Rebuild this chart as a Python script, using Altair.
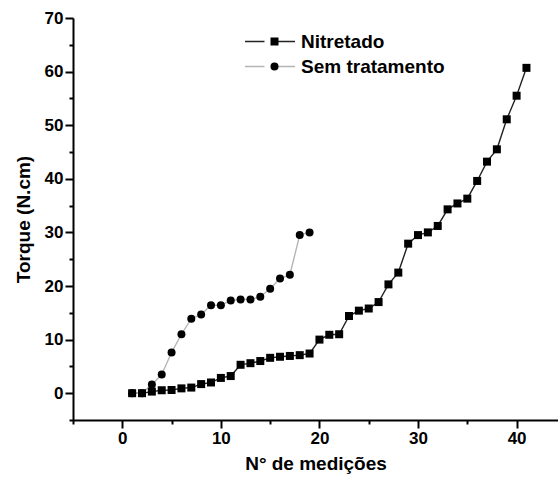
import altair as alt
import pandas as pd

series_names = ["Nitretado", "Sem tratamento"]

nitretado_x = list(range(1, 42))
nitretado_torque = [0.0, 0.0, 0.3, 0.55, 0.6, 0.9, 1.05, 1.7, 2.0, 2.85,
                    3.2, 5.3, 5.6, 6.0, 6.6, 6.8, 6.95, 7.1, 7.4, 10.0,
                    10.9, 11.0, 14.4, 15.4, 15.8, 17.0, 20.3, 22.5, 27.9, 29.5,
                    30.0, 31.2, 34.3, 35.4, 36.3, 39.6, 43.2, 45.5, 51.1, 55.5,
                    60.7]

sem_x = list(range(1, 20))
sem_torque = [0.0, 0.0, 1.6, 3.5, 7.6, 11.0, 13.9, 14.7, 16.4, 16.4,
              17.3, 17.5, 17.5, 18.0, 19.5, 21.4, 22.1, 29.5, 30.0]

x_ticks = list(range(-5, 45, 5))
y_ticks = list(range(-5, 75, 5))

# symbol-legend keys differ from line-legend keys so Vega-Lite keeps two legends
symbol_names = [s + " " for s in series_names]

df = pd.concat([
    pd.DataFrame({"x": nitretado_x, "torque": nitretado_torque, "serie": series_names[0]}),
    pd.DataFrame({"x": sem_x, "torque": sem_torque, "serie": series_names[1]}),
], ignore_index=True)
df["simbolo"] = df["serie"] + " "
df["ordem"] = df["serie"].map({series_names[0]: 0, series_names[1]: 1})

FONT = "Liberation Sans"
cond_tick = {"condition": {"test": "datum.value % 10 === 0", "value": 8}, "value": 4}

x_scale = alt.Scale(domain=[-5, 44.2], nice=False, zero=False)
y_scale = alt.Scale(domain=[-5, 70], nice=False, zero=False)

x_axis = alt.Axis(title="N° de medições", values=x_ticks,
                  labelExpr="datum.value % 10 === 0 ? datum.value : ''",
                  tickSize=cond_tick, grid=False, labelPadding=2, titlePadding=8)
y_axis = alt.Axis(title="Torque (N.cm)", values=y_ticks,
                  labelExpr="datum.value % 10 === 0 ? datum.value : ''",
                  tickSize=cond_tick, grid=False, labelPadding=2, titlePadding=11)

X = alt.X("x:Q", scale=x_scale, axis=x_axis)
Y = alt.Y("torque:Q", scale=y_scale, axis=y_axis)

lines = alt.Chart(df).mark_line(strokeWidth=1.4).encode(
    x=X, y=Y,
    color=alt.Color("serie:N",
                    scale=alt.Scale(domain=series_names, range=["#222222", "#b5b5b5"]),
                    legend=alt.Legend(title=None, orient="none", legendX=171, legendY=11,
                                      symbolType="M-1,0H-0.22M0.22,0H1", symbolSize=2500,
                                      symbolStrokeWidth=1.5, clipHeight=25, rowPadding=0,
                                      padding=0, labelOffset=5, labelFontSize=19,
                                      labelFont=FONT, labelFontWeight="bold",
                                      labelColor="black")),
)

points = alt.Chart(df).mark_point(filled=True, color="black", opacity=1).encode(
    x=X, y=Y,
    shape=alt.Shape("simbolo:N",
                    scale=alt.Scale(domain=symbol_names, range=["square", "circle"]),
                    legend=alt.Legend(title=None, orient="none", legendX=192, legendY=11,
                                      symbolSize=64, symbolFillColor="black",
                                      symbolStrokeWidth=0, symbolOpacity=1,
                                      clipHeight=25, rowPadding=0, padding=0,
                                      labelExpr="''", labelFontSize=19)),
    order=alt.Order("ordem:Q"),
)

chart = alt.layer(lines, points).properties(
    width=485, height=402,
    autosize=alt.AutoSizeParams(type="none"),
    padding={"left": 73, "top": 18, "right": 0, "bottom": 62},
).configure_view(stroke=None).configure_axis(
    domainColor="black", domainWidth=2, tickColor="black", tickWidth=2,
    labelFont=FONT, labelFontSize=17, labelFontWeight="bold", labelColor="black",
    titleFont=FONT, titleFontSize=19, titleFontWeight="bold", titleColor="black",
).configure_point(size=64)

chart.save("out.html", embed_options={"renderer": "svg", "actions": False})
